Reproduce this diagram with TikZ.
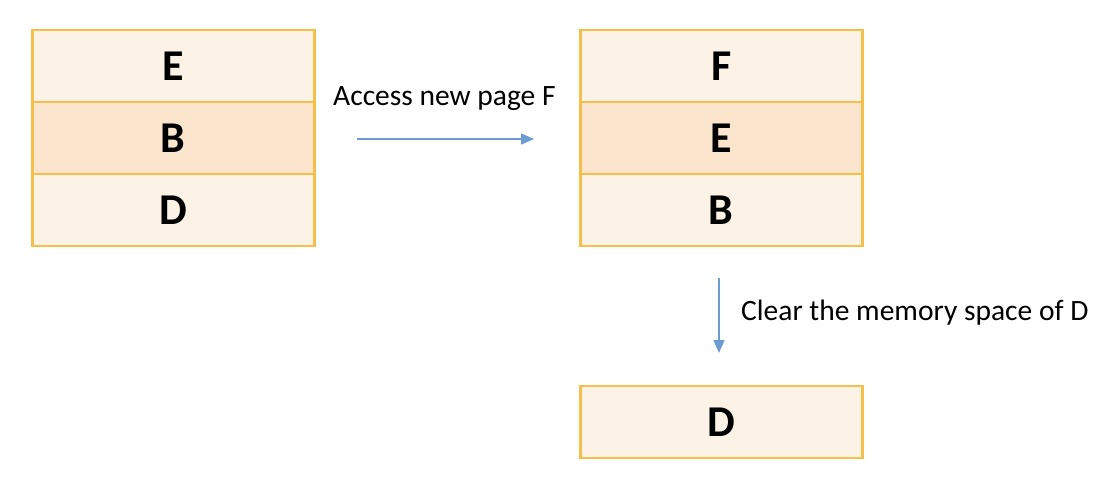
\documentclass[tikz,border=0pt]{standalone}
\usepackage{fontspec}
\setmainfont{Carlito}
\usetikzlibrary{arrows.meta}
\definecolor{gold}{HTML}{F5BF4A}
\definecolor{lightfill}{HTML}{FCF3E6}
\definecolor{midfill}{HTML}{FBE6CD}
\definecolor{arrowblue}{HTML}{6C9AD3}
\tikzset{
  cell/.style={draw=gold, line width=2.5pt, minimum width=282pt, minimum height=72pt, inner sep=0pt, font=\fontsize{44}{48}\selectfont\bfseries, anchor=north west},
  light/.style={cell, fill=lightfill},
  mid/.style={cell, fill=midfill},
  flow/.style={draw=arrowblue, line width=1.5pt, -{Triangle[length=13pt,width=11pt]}},
  lbl/.style={font=\fontsize{29.5}{34}\selectfont, inner sep=0pt}
}
\begin{document}
\begin{tikzpicture}[x=1pt,y=-1pt]
\useasboundingbox (0,0) rectangle (1114,496);
% left stack
\node[light] (l1) at (31,28.5) {E};
\node[mid]   (l2) at (31,100.5) {B};
\node[light] (l3) at (31,172.5) {D};
% right stack
\node[light] (r1) at (579,28.5) {F};
\node[mid]   (r2) at (579,100.5) {E};
\node[light] (r3) at (579,172.5) {B};
% evicted
\node[light] (d) at (579,384.5) {D};
% arrows
\coordinate (a1) at (357,139);
\coordinate (a2) at (534,139);
\draw[flow] (a1) -- (a2);
\node[lbl, anchor=base west] (t1) at (333,105) {Access new page F};
\coordinate (b1) at (719,278);
\coordinate (b2) at (719,353);
\draw[flow] (b1) -- (b2);
\node[lbl, anchor=base west] (t2) at (741,320) {Clear the memory space of D};
\end{tikzpicture}
\end{document}
